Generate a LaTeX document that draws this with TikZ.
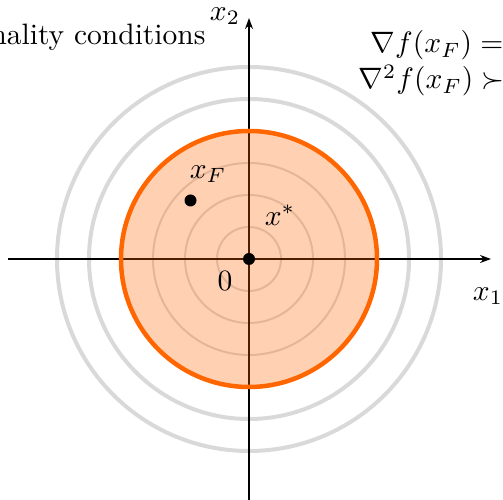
\documentclass[tikz,border=0pt]{standalone}
\usepackage{amsmath,amssymb}
\usetikzlibrary{arrows.meta}
\definecolor{ringgray}{HTML}{D9D9D9}
\definecolor{myorange}{HTML}{FF6600}
\tikzset{
  ring/.style={draw=ringgray, line width=4pt},
  innerring/.style={draw=ringgray, line width=2pt},
  axis/.style={draw=black, line width=1.5pt, -{Stealth[length=11pt,width=8pt]}},
  dot/.style={circle, fill=black, inner sep=0pt, minimum size=12pt},
  lbl/.style={inner sep=0pt, scale=2.95, transform shape}
}
\begin{document}
\begin{tikzpicture}[x=1pt,y=1pt]
\useasboundingbox (0,0) rectangle (503,500);
\clip (0,0) rectangle (503,500);
\coordinate (O) at (249,241);
% rings
\draw[innerring] (O) circle (32);
\draw[innerring] (O) circle (64);
\draw[innerring] (O) circle (96);
\draw[ring] (O) circle (160);
\draw[ring] (O) circle (192);
% axes
\coordinate (xl) at (8,241);
\coordinate (xr) at (491,241);
\coordinate (yb) at (249,0);
\coordinate (yt) at (249,482);
\draw[axis] (xl) -- (xr);
\draw[axis] (yb) -- (yt);
% feasible set
\fill[myorange, fill opacity=0.3] (O) circle (128);
\draw[myorange, line width=4.5pt] (O) circle (128);
% points
\node[dot] (xstar) at (O) {};
\node[dot] (xF) at (190.5,299.5) {};
% labels
\node[lbl] (xFl) at (208,326) {$x_F$};
\node[lbl] (xsl) at (280,285) {$x^*$};
\node[lbl] (zero) at (225,219) {$0$};
\node[lbl] (x1l) at (488,204) {$x_1$};
\node[lbl] (x2l) at (225,484) {$x_2$};
\node[lbl, anchor=base east] (title) at (206,455) {Optimality conditions};
\node[lbl, anchor=base west] (eq1) at (370,447) {$\nabla f(x_F) =$};
\node[lbl, anchor=base west] (eq2) at (358,411) {$\nabla^2 f(x_F) \succ$};
\end{tikzpicture}
\end{document}
